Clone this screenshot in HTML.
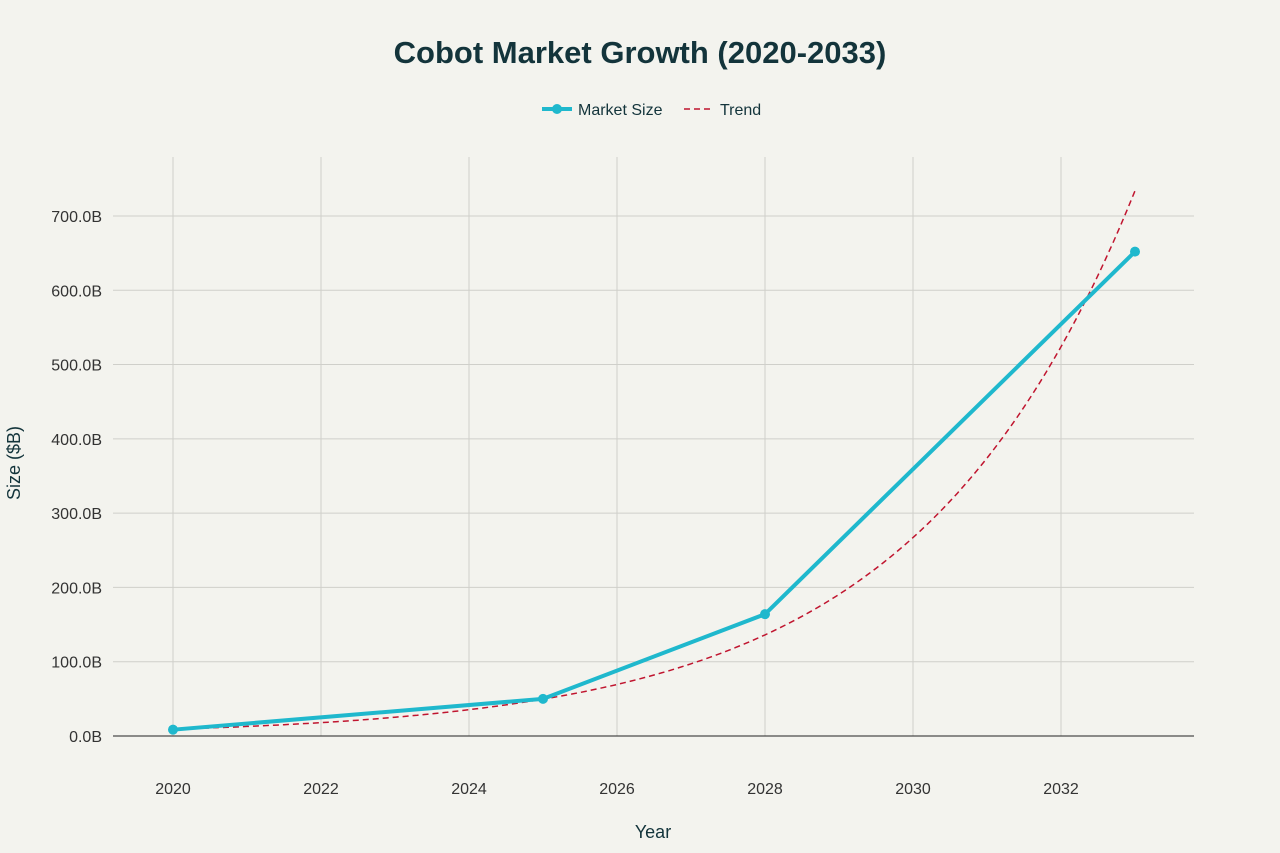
<!DOCTYPE html>
<html><head><meta charset="utf-8"><style>
body{margin:0;background:#f3f3ee;font-family:"Liberation Sans",sans-serif;}
svg{display:block}
</style></head><body>
<svg id="chart" width="1280" height="853">
<rect width="1280" height="853" fill="#f3f3ee"/>
<text x="640" y="63" text-anchor="middle" font-size="31" font-weight="bold" fill="#13343b">Cobot Market Growth (2020-2033)</text>
<g>
<g>
<line x1="542" y1="109" x2="572" y2="109" stroke="#1fb8cd" stroke-width="4"/>
<circle cx="557" cy="109" r="5" fill="#1fb8cd"/>
<text x="578" y="115" font-size="16" fill="#13343b">Market Size</text></g>
<g>
<line x1="684" y1="109" x2="714" y2="109" stroke="#c0152f" stroke-width="1.5" stroke-dasharray="6,4"/>
<text x="720" y="115" font-size="16" fill="#13343b">Trend</text></g>
</g>
<g id="grid"></g><g id="axes"></g><g id="series"></g>
<text x="653" y="838" text-anchor="middle" font-size="18" fill="#13343b">Year</text>
<text transform="translate(20,463) rotate(-90)" text-anchor="middle" font-size="18" fill="#13343b">Size ($B)</text>
</svg>
<script>
const years=[2020,2025,2028,2033];
const sizes=[8.5,50,164,652];
const xTicks=[2020,2022,2024,2026,2028,2030,2032];
const yTicks=[0,100,200,300,400,500,600,700];
const NS="http://www.w3.org/2000/svg";
function X(v){return 173+(v-2020)*74;}
function Y(v){return 736-v*0.7429;}
function mk(t,a,p){const e=document.createElementNS(NS,t);for(const k in a)e.setAttribute(k,a[k]);p.appendChild(e);return e;}
const grid=document.getElementById('grid'),axes=document.getElementById('axes'),ser=document.getElementById('series');
xTicks.forEach(t=>{
 const l=mk('line',{x1:X(t),x2:X(t),y1:157,y2:736,stroke:'#cfcfca','stroke-width':1},grid);
 
 
 const tx=mk('text',{x:X(t),y:794,'text-anchor':'middle','font-size':16,fill:'#333'},axes);tx.textContent=t;
 
 
});
yTicks.forEach(t=>{
 if(t>0){const l=mk('line',{x1:113,x2:1194,y1:Y(t),y2:Y(t),stroke:'#cfcfca','stroke-width':1},grid);
 
 }
 const tx=mk('text',{x:102,y:Y(t)+6,'text-anchor':'end','font-size':16,fill:'#333'},axes);tx.textContent=t.toFixed(1)+'B';
 
 
});
const zl=mk('line',{x1:113,x2:1194,y1:Y(0),y2:Y(0),stroke:'#222','stroke-width':1},axes);


const n=years.length,xs=years.map(y=>y-2020),ls=sizes.map(Math.log);
const mx=xs.reduce((a,b)=>a+b)/n,my=ls.reduce((a,b)=>a+b)/n;
let sxy=0,sxx=0;xs.forEach((x,i)=>{sxy+=(x-mx)*(ls[i]-my);sxx+=(x-mx)*(x-mx);});
const b=sxy/sxx,a=my-b*mx;
let d='';for(let i=0;i<=130;i++){const t=i/10;d+=(i?'L':'M')+X(2020+t).toFixed(1)+','+Y(Math.exp(a+b*t)).toFixed(1);}
const tr=mk('path',{d:d,fill:'none',stroke:'#c0152f','stroke-width':1.5,'stroke-dasharray':'6,4'},ser);


const ml=mk('polyline',{points:years.map((y,i)=>X(y)+','+Y(sizes[i])).join(' '),fill:'none',stroke:'#1fb8cd','stroke-width':4,'stroke-linejoin':'round'},ser);


years.forEach((y,i)=>{const c=mk('circle',{cx:X(y),cy:Y(sizes[i]),r:5,fill:'#1fb8cd'},ser);
 
 });
</script>
</body></html>
